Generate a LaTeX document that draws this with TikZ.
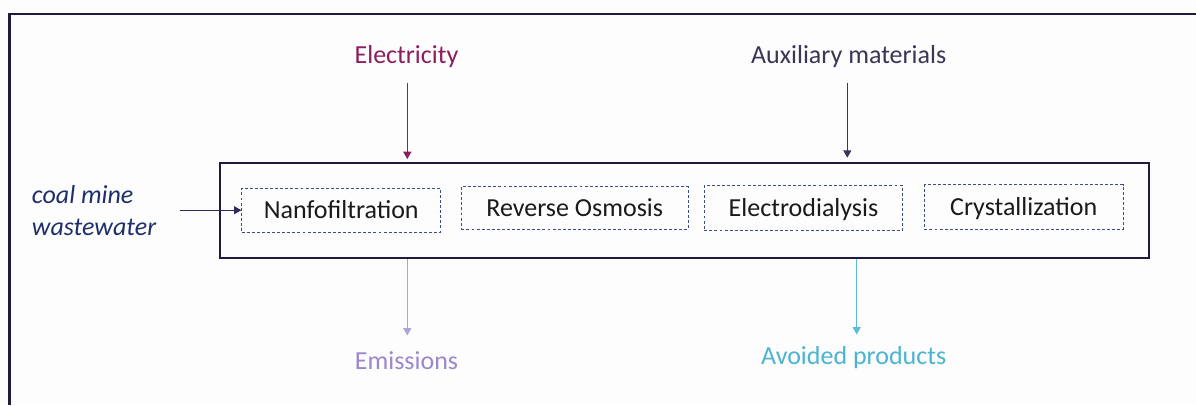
\documentclass[tikz,border=0pt]{standalone}
\usepackage{fontspec}
\setmainfont{Carlito}
\usetikzlibrary{arrows.meta}

\definecolor{bgcol}{HTML}{FDFDFD}
\definecolor{framecol}{HTML}{1E1B3F}
\definecolor{dashcol}{HTML}{3E4C85}
\definecolor{boxtext}{HTML}{1A1A1A}
\definecolor{eleccol}{HTML}{8C1D5E}
\definecolor{auxcol}{HTML}{3B3556}
\definecolor{emiscol}{HTML}{9B87CC}
\definecolor{emisarrow}{HTML}{B0A3D8}
\definecolor{avoidcol}{HTML}{4BB4D2}
\definecolor{avoidarrow}{HTML}{5BBDD8}
\definecolor{coalcol}{HTML}{1F2F6B}
\definecolor{coalarrow}{HTML}{2E2A5A}

\tikzset{
  bigfont/.style={font=\fontsize{19.5}{23.25}\selectfont},
  unitbox/.style={draw=dashcol, line width=0.55pt, dash pattern=on 2.2pt off 1.6pt,
    inner sep=0pt, bigfont, text=boxtext, text height=12pt, text depth=0pt},
  flowlabel/.style={bigfont, inner sep=0pt, anchor=base},
  flowarrow/.style={line width=0.75pt, -{Triangle[width=6pt,length=5.5pt]}}
}

\begin{document}
\begin{tikzpicture}[x=0.75pt, y=-0.75pt]
  % page and background
  \useasboundingbox (0,0) rectangle (1196,405);
  \fill[bgcol] (0,0) rectangle (1196,405);

  % outer frame (left and top edges)
  \draw[framecol, line width=1.6pt] (9.5,405) -- (9.5,14.3) -- (1196,14.3);

  % process system boundary
  \node[draw=framecol, line width=1.5pt, minimum width=696.75pt, minimum height=71.5pt,
        inner sep=0pt] (main) at (684.5,210.4) {};

  % unit operations
  \node[unitbox, minimum width=149.25pt, minimum height=32.8pt] (nano) at (341.2,210.2) {Nanfofiltration};
  \node[unitbox, minimum width=170pt, minimum height=32pt] (ro) at (574.7,208) {Reverse Osmosis};
  \node[unitbox, minimum width=148.8pt, minimum height=33.45pt] (ed) at (803.5,208) {Electrodialysis};
  \node[unitbox, minimum width=149pt, minimum height=33.45pt] (cr) at (1023.7,207) {Crystallization};

  % inputs and outputs
  \node[flowlabel, text=eleccol] (elec) at (406.5,63) {Electricity};
  \node[flowlabel, text=auxcol] (aux) at (848.7,63) {Auxiliary materials};
  \node[flowlabel, text=emiscol] (emis) at (406.5,369) {Emissions};
  \node[flowlabel, text=avoidcol] (avoid) at (853.7,364) {Avoided products};

  \node[text=coalcol, inner sep=0pt, anchor=west, align=left,
        font=\fontsize{19.5}{24}\selectfont\itshape] (coal) at (31.7,211) {coal mine\\wastewater};

  % connector end points
  \coordinate (elecIn) at (407.3,83);
  \coordinate (auxIn) at (847.3,83);
  \coordinate (emisOut) at (407.3,335.5);
  \coordinate (avoidOut) at (856.7,334.5);
  \coordinate (coalIn) at (180,210.2);

  % connectors
  \draw[flowarrow, eleccol, shorten >=2pt] (elecIn) -- (elecIn |- main.north);
  \draw[flowarrow, auxcol, shorten >=3pt] (auxIn) -- (auxIn |- main.north);
  \draw[flowarrow, emisarrow] (emisOut |- main.south) -- (emisOut);
  \draw[flowarrow, avoidarrow] (avoidOut |- main.south) -- (avoidOut);
  \draw[flowarrow, coalarrow] (coalIn) -- (nano.west);
\end{tikzpicture}
\end{document}
